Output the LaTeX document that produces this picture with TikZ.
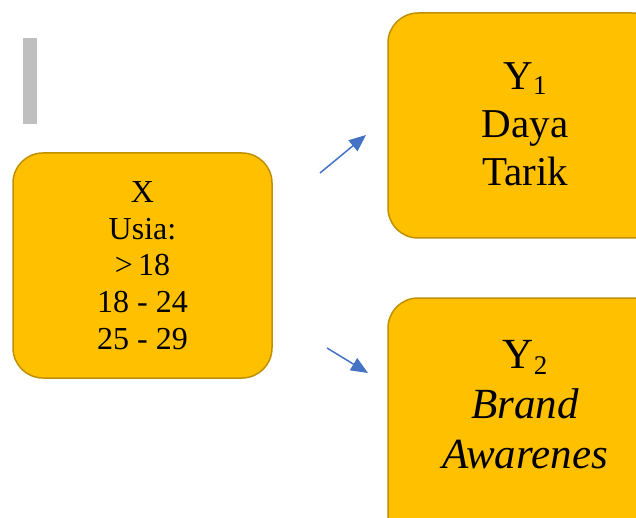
\documentclass[tikz,border=0pt]{standalone}
\usepackage{fontspec}
\setmainfont{Liberation Serif}
\usetikzlibrary{arrows.meta}
\definecolor{boxfill}{HTML}{FFC000}
\definecolor{boxline}{HTML}{BF9000}
\definecolor{barcol}{HTML}{BFBFBF}
\definecolor{arrcol}{HTML}{4472C4}
\newcommand{\subsc}[1]{\raisebox{-0.12em}{\fontsize{27}{27}\selectfont #1}}
\tikzset{
  varbox/.style={draw=boxline, line width=1.5pt, fill=boxfill, rounded corners=30pt,
    inner sep=0pt},
  boxtext/.style={align=center, inner sep=0pt, text=black},
  relarrow/.style={draw=arrcol, line width=1.5pt, -{Triangle[length=17pt,width=14pt]}}
}
\begin{document}
\begin{tikzpicture}[x=1pt,y=-1pt]
\useasboundingbox (0,0) rectangle (636,518);
\clip (0,0) rectangle (636,518);
\fill[white] (0,0) rectangle (636,518);
% gray bar
\fill[barcol] (23,38) rectangle (37,124);
% X box
\node[varbox, minimum width=259pt, minimum height=225pt] (x) at (142.5,265.5) {};
\node[boxtext, font=\fontsize{32}{36.8}\selectfont] (xt) at (142.5,265.5)
  {X\\Usia:\\>\,18\\18 - 24\\25 - 29};
% Y1 box
\node[varbox, minimum width=274pt, minimum height=225pt] (y1) at (525,125.5) {};
\node[boxtext, font=\fontsize{41}{48}\selectfont] (y1t) at (525,124)
  {Y\subsc{1}\\Daya\\Tarik};
% Y2 box
\node[varbox, minimum width=274pt, minimum height=250pt] (y2) at (525,423) {};
\node[boxtext, font=\fontsize{43}{50}\selectfont] (y2t) at (525,405)
  {Y\subsc{2}\\\textit{Brand}\\\textit{Awarenes}};
% arrows
\coordinate (a1s) at (320,173);
\coordinate (a1e) at (366,135);
\coordinate (a2s) at (327,348);
\coordinate (a2e) at (368,373);
\draw[relarrow] (a1s) -- (a1e);
\draw[relarrow] (a2s) -- (a2e);
\end{tikzpicture}
\end{document}
